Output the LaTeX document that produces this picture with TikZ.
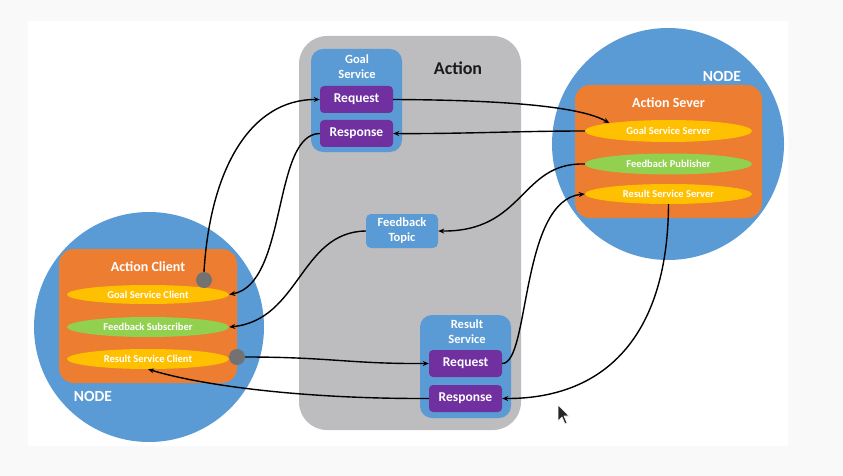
\documentclass[tikz,border=0pt]{standalone}
\usepackage{fontspec}
\setmainfont{Carlito}
\usetikzlibrary{arrows.meta,shapes.geometric}

\definecolor{pageGray}{HTML}{F9F9FA}
\definecolor{nodeBlue}{HTML}{5B9BD5}
\definecolor{boxOrange}{HTML}{ED7D31}
\definecolor{svcYellow}{HTML}{FFC000}
\definecolor{pubGreen}{HTML}{92D050}
\definecolor{msgPurple}{HTML}{7030A0}
\definecolor{actionGray}{HTML}{BDBCBE}
\definecolor{portGray}{HTML}{737272}
\definecolor{titleInk}{HTML}{1A1A1A}

\begin{document}
\begin{tikzpicture}[x=1pt,y=-1pt,
  rosnode/.style={circle,fill=nodeBlue,inner sep=0pt,minimum size=#1},
  rolebox/.style={fill=boxOrange,rounded corners=15pt,inner sep=0pt},
  servicebox/.style={fill=nodeBlue,rounded corners=12pt,inner sep=0pt,
    minimum width=91pt,minimum height=103pt},
  msgbox/.style={fill=msgPurple,rounded corners=4pt,inner sep=0pt,
    minimum width=73pt,minimum height=27pt,text=white,
    font=\bfseries\fontsize{13.5}{14}\selectfont},
  topicbox/.style={fill=nodeBlue,rounded corners=5pt,inner sep=0pt,
    minimum width=72pt,minimum height=34pt,text=white,align=center,
    font=\bfseries\fontsize{12.5}{15}\selectfont},
  lane/.style={ellipse,fill=#1,inner sep=0pt,text=white,
    font=\bfseries\fontsize{10.5}{12}\selectfont},
  port/.style={circle,fill=portGray,inner sep=0pt,minimum size=16pt},
  title/.style={text=white,font=\bfseries\fontsize{14}{16}\selectfont},
  smalltitle/.style={text=white,align=center,font=\bfseries\fontsize{12.5}{15}\selectfont},
  nodetag/.style={text=white,font=\bfseries\fontsize{15.5}{17}\selectfont},
  link/.style={line width=1.4pt,-{Stealth[length=6pt,width=5pt]}}
]

% page and slide area
\fill[pageGray] (0,0) rectangle (843,476);
\useasboundingbox (0,0) rectangle (843,476);
\fill[white] (28,21) rectangle (788,446);

% the action interface in the middle
\node[fill=actionGray,rounded corners=28pt,inner sep=0pt,
      minimum width=222pt,minimum height=394pt] (action) at (410,233) {};
\node[text=titleInk,font=\bfseries\fontsize{18}{20}\selectfont] (actiontitle) at (458,68) {Action};

\node[servicebox] (goalsvc) at (356.5,100.5) {};
\node[smalltitle] (goalsvctitle) at (357,67) {Goal\\Service};
\node[msgbox] (goalreq) at (356.5,99.5) {Request};
\node[msgbox] (goalres) at (356.5,133.5) {Response};

\node[topicbox] (fbtopic) at (402,231) {Feedback\\Topic};

\node[servicebox] (ressvc) at (465.5,366.5) {};
\node[smalltitle] (ressvctitle) at (467,332) {Result\\Service};
\node[msgbox] (resreq) at (465.5,363.5) {Request};
\node[msgbox] (resres) at (465.5,398.5) {Response};

% server node
\node[rosnode=232pt] (nodeR) at (668,144) {};
\node[nodetag] (nodeRtag) at (722,76) {NODE};
\node[rolebox,minimum width=187pt,minimum height=133pt] (server) at (668.5,151.5) {};
\node[title] (servertitle) at (668.5,103) {Action Sever};
\node[lane=svcYellow,minimum width=167pt,minimum height=22pt] (gss) at (668.5,131) {Goal Service Server};
\node[lane=pubGreen,minimum width=167pt,minimum height=21pt] (fbp) at (668.5,164) {Feedback Publisher};
\node[lane=svcYellow,minimum width=167pt,minimum height=20pt] (rss) at (668.5,194) {Result Service Server};

% client node
\node[rosnode=230pt] (nodeL) at (149,327) {};
\node[nodetag] (nodeLtag) at (93,396) {NODE};
\node[rolebox,minimum width=178pt,minimum height=134pt] (client) at (148,316) {};
\node[title] (clienttitle) at (148,267) {Action Client};
\node[lane=svcYellow,minimum width=162pt,minimum height=19pt] (gsc) at (148,294.5) {Goal Service Client};
\node[lane=pubGreen,minimum width=162pt,minimum height=20pt] (fbs) at (148,327) {Feedback Subscriber};
\node[lane=svcYellow,minimum width=162pt,minimum height=20pt] (rsc) at (148,359) {Result Service Client};
\node[port] (goalport) at (204,280) {};
\node[port] (resport) at (237,357) {};

% goal exchange
\draw[link] (goalport.north) .. controls (210,170) and (250,99) .. (goalreq.west);
\draw[link] (goalreq.east) .. controls (500,100) and (580,106) .. (gss.north west);
\draw[link] (gss.west) .. controls (520,131) and (460,134) .. (goalres.east);
\draw[link] (goalres.west) .. controls (272,134) and (288,284) .. (gsc.east);

% feedback stream
\draw[link] (fbp.west) .. controls (520,162) and (525,232) .. (fbtopic.east);
\draw[link] (fbtopic.west) .. controls (300,232) and (300,320) .. (fbs.east);

% result exchange
\draw[link] (resport.east) .. controls (330,357) and (350,364) .. (resreq.west);
\draw[link] (resreq.east) .. controls (530,364) and (520,200) .. (rss.west);
\draw[link] (rss.south) .. controls (668,330) and (610,399) .. (resres.east);
\draw[link] (resres.west) .. controls (300,399) and (200,385) .. (rsc.south);

% mouse pointer
\fill[black!85,draw=white,line width=0.6pt,line join=round]
  (558,405) -- (558,421) -- (562,417) -- (565,424) -- (567,423) -- (564,416) -- (569,416) -- cycle;

\end{tikzpicture}
\end{document}
